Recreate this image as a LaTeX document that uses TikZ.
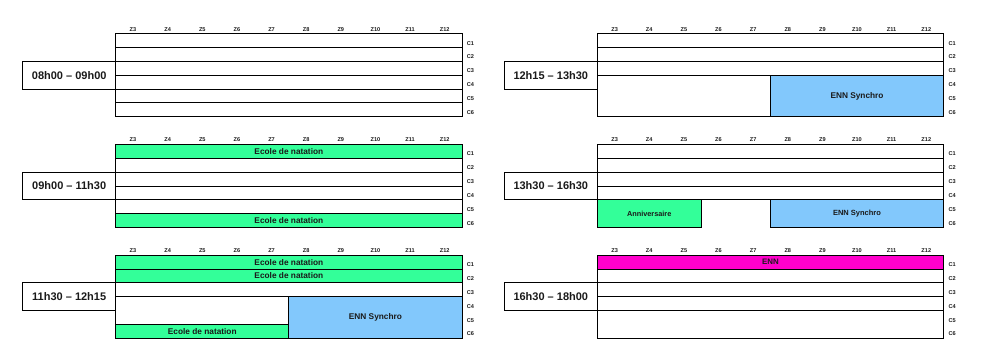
\documentclass[tikz,border=0pt]{standalone}
\usepackage{fontspec}
\setmainfont{Liberation Sans}
\definecolor{natgreen}{HTML}{33FF99}
\definecolor{synblue}{HTML}{82C8FC}
\definecolor{ennpink}{HTML}{FF00CC}
\definecolor{txt}{HTML}{1A1A1A}
\tikzset{
  cellbox/.style={draw=black, line width=0.8pt, fill=white, inner sep=0pt, outer sep=0pt,
    anchor=north west, font=\bfseries\fontsize{8.3}{9}\selectfont, text=txt},
  timebox/.style={draw=black, line width=0.8pt, fill=white, inner sep=0pt, outer sep=0pt,
    anchor=north west, minimum width=93pt, minimum height=27.7pt,
    font=\bfseries\fontsize{11}{13}\selectfont, text=txt},
  zlab/.style={inner sep=0pt, font=\bfseries\fontsize{5.6}{6}\selectfont, text=txt},
  clab/.style={inner sep=0pt, font=\bfseries\fontsize{5.6}{6}\selectfont, text=txt},
  nat/.style={fill=natgreen},
  syn/.style={fill=synblue},
  enn/.style={fill=ennpink},
}
\def\cw{34.63}
\def\rh{13.85}
% #1 name, #2 x0, #3 top, #4 first column, #5 columns, #6 first row, #7 rows, #8 style, #9 text
\newcommand\blk[9]{%
  \node[cellbox,#8,minimum width=#5*\cw pt,minimum height=#7*\rh pt] (#1) at (#2+#4*\cw, #3+#6*\rh) {#9};}
% #1 name prefix, #2 x0, #3 top, #4 time label
\newcommand\panelframe[4]{%
  \foreach \i [count=\k from 0] in {3,...,12} {
    \node[zlab] (#1z\i) at (#2+\k*\cw+0.5*\cw, #3-4.4) {Z\i};
  }
  \foreach \j in {1,...,6} {
    \node[clab] (#1c\j) at (#2+10*\cw+8.5, #3+\j*\rh-0.5*\rh+2.6) {C\j};
  }
  \node[timebox] (#1t) at (#2-93, #3+2*\rh) {#4};
}
\begin{document}
\begin{tikzpicture}[x=1pt,y=-1pt]
\useasboundingbox (0,0) rectangle (985,344);
\def\LX{115.7}
\def\RX{597.3}
\def\TA{33.6}
\def\TB{144.4}
\def\TC{255.2}
% ---- panel 1 left: 08h00 - 09h00
\foreach \j in {0,...,5} { \blk{aL\j}{\LX}{\TA}{0}{10}{\j}{1}{}{} }
\panelframe{aL}{\LX}{\TA}{08h00 – 09h00}
% ---- panel 1 right: 12h15 - 13h30
\foreach \j in {0,...,2} { \blk{aR\j}{\RX}{\TA}{0}{10}{\j}{1}{}{} }
\blk{aRw}{\RX}{\TA}{0}{5}{3}{3}{}{}
\blk{aRs}{\RX}{\TA}{5}{5}{3}{3}{syn}{ENN Synchro}
\panelframe{aR}{\RX}{\TA}{12h15 – 13h30}
% ---- panel 2 left: 09h00 - 11h30
\blk{bL0}{\LX}{\TB}{0}{10}{0}{1}{nat}{Ecole de natation}
\foreach \j in {1,...,4} { \blk{bL\j}{\LX}{\TB}{0}{10}{\j}{1}{}{} }
\blk{bL5}{\LX}{\TB}{0}{10}{5}{1}{nat}{Ecole de natation}
\panelframe{bL}{\LX}{\TB}{09h00 – 11h30}
% ---- panel 2 right: 13h30 - 16h30
\foreach \j in {0,...,3} { \blk{bR\j}{\RX}{\TB}{0}{10}{\j}{1}{}{} }
\blk{bRa}{\RX}{\TB}{0}{3}{4}{2}{nat,font=\bfseries\fontsize{7.3}{8}\selectfont}{Anniversaire}
\blk{bRs}{\RX}{\TB}{5}{5}{4}{2}{syn,font=\bfseries\fontsize{7.5}{8}\selectfont}{ENN Synchro}
\panelframe{bR}{\RX}{\TB}{13h30 – 16h30}
% ---- panel 3 left: 11h30 - 12h15
\blk{cL0}{\LX}{\TC}{0}{10}{0}{1}{nat}{Ecole de natation}
\blk{cL1}{\LX}{\TC}{0}{10}{1}{1}{nat}{Ecole de natation}
\blk{cL2}{\LX}{\TC}{0}{10}{2}{1}{}{}
\blk{cLw}{\LX}{\TC}{0}{5}{3}{2}{}{}
\blk{cLn}{\LX}{\TC}{0}{5}{5}{1}{nat}{Ecole de natation}
\blk{cLs}{\LX}{\TC}{5}{5}{3}{3}{syn}{ENN Synchro}
\panelframe{cL}{\LX}{\TC}{11h30 – 12h15}
% ---- panel 3 right: 16h30 - 18h00
\blk{cR0}{\RX}{\TC}{0}{10}{0}{1}{enn,font=\bfseries\fontsize{7.9}{8}\selectfont}{ENN}
\foreach \j in {1,...,3} { \blk{cR\j}{\RX}{\TC}{0}{10}{\j}{1}{}{} }
\blk{cR4}{\RX}{\TC}{0}{10}{4}{2}{}{}
\panelframe{cR}{\RX}{\TC}{16h30 – 18h00}
\end{tikzpicture}
\end{document}
